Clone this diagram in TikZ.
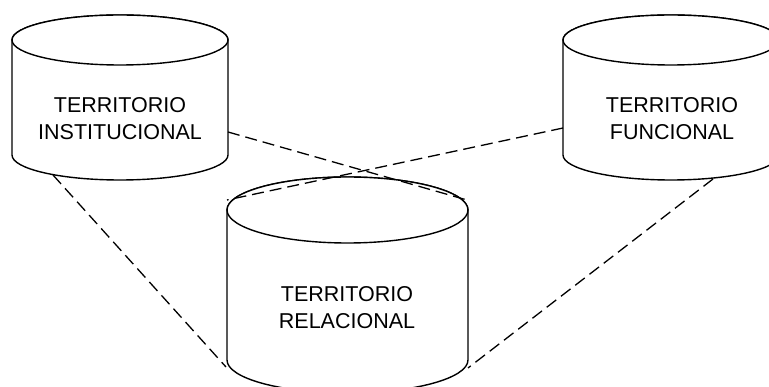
\documentclass[tikz,border=0pt]{standalone}
\usepackage{fontspec}
\setmainfont{Liberation Sans}
\usepackage{tikz}

\begin{document}
\begin{tikzpicture}[x=1pt,y=-1pt,line join=round,
  cyl/.style={draw,line width=1.4pt,fill=white},
  lbl/.style={align=center,inner sep=0pt,font=\fontsize{21.5}{27}\selectfont},
  link/.style={line width=1.3pt,dash pattern=on 12pt off 6pt}]
  \clip (0,0) rectangle (769,387);
  % cylinders: centre x, half width, top y, bottom y, cap radius
  \foreach \cx/\rx/\ty/\by/\ry in {120/108/40/155/25, 671/108/40/155/25, 347.5/120.5/210/360/33}{
    \filldraw[cyl] (\cx-\rx,\ty) -- (\cx-\rx,\by)
      arc[start angle=180,end angle=0,x radius=\rx,y radius=\ry]
      -- (\cx+\rx,\ty)
      arc[start angle=0,end angle=-180,x radius=\rx,y radius=\ry] -- cycle;
    \draw[cyl] (\cx,\ty) ellipse[x radius=\rx,y radius=\ry];
  }
  \node[lbl] (inst) at (120,119) {TERRITORIO\\INSTITUCIONAL};
  \node[lbl] (func) at (672,119) {TERRITORIO\\FUNCIONAL};
  \node[lbl] (rel) at (347,308) {TERRITORIO\\RELACIONAL};
  % end points on the cylinders
  \coordinate (inst-r) at (228,132);
  \coordinate (inst-b) at (53,175);
  \coordinate (func-l) at (563,128);
  \coordinate (func-b) at (713,179);
  \coordinate (rel-tl) at (227,200);
  \coordinate (rel-tr) at (467,200);
  \coordinate (rel-bl) at (226,367);
  \coordinate (rel-br) at (468,368);
  \draw[link] (inst-r) -- (rel-tr);
  \draw[link] (func-l) -- (rel-tl);
  \draw[link] (inst-b) -- (rel-bl);
  \draw[link] (func-b) -- (rel-br);
\end{tikzpicture}
\end{document}
